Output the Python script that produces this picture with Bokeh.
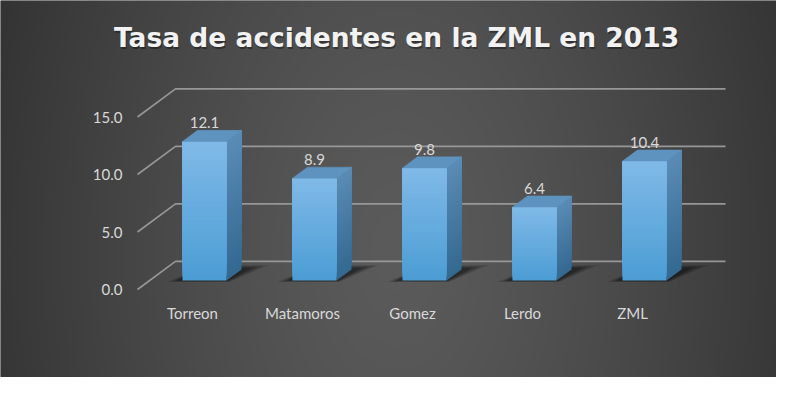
import numpy as np
from bokeh.plotting import figure
from bokeh.models import Range1d
from bokeh.embed import file_html
from bokeh.resources import INLINE
from bokeh.core.properties import value

# ---------------- data ----------------
title_text = "Tasa de accidentes en la ZML en 2013"
categories = ["Torreon", "Matamoros", "Gomez", "Lerdo", "ZML"]
rates = [12.1, 8.9, 9.8, 6.4, 10.4]
rate_labels = ["12.1", "8.9", "9.8", "6.4", "10.4"]
y_ticks = [0, 5, 10, 15]
y_tick_labels = ["0.0", "5.0", "10.0", "15.0"]

# ---------------- geometry (style) ----------------
W, H = 776, 377
PX, PY = 110.0, 11.5          # pixels per category unit / per value unit
SLOPE = 0.74                   # oblique depth slope
X0_PIX, Y0_PIX = 192.0, 289.0  # where category 0 / value 0 sit (pixels from left / top)
x_lo, x_hi = -X0_PIX / PX, (W - X0_PIX) / PX
y_hi, y_lo = Y0_PIX / PY, -(H - Y0_PIX) / PY

HW = 0.2          # half bar width (category units)
T0, T1 = 12, 27   # bar front / back depth (px)
TW = 38           # back wall depth (px)


def sh(x, y, t):
    return x + t / PX, y + SLOPE * t / PY


p = figure(width=W, height=H, x_range=Range1d(x_lo, x_hi), y_range=Range1d(y_lo, y_hi),
           x_axis_type=None, y_axis_type=None, toolbar_location=None,
           output_backend="svg", min_border=0, outline_line_color=None, title=None)
p.background_fill_color = "#444444"
p.border_fill_color = "#444444"

# ---------------- background radial gradient ----------------
jj, ii = np.mgrid[0:H, 0:W]
refx = ii.astype(float)
refy = (H - 1 - jj).astype(float)   # row 0 = bottom
dx = (refx - 396.0) / 430.0
dy = (refy - 250.0) / 700.0
r = np.sqrt(dx ** 2 + dy ** 2)
g = np.clip(91 - 40 * np.power(r, 1.3), 40, 95).astype(np.uint32)
img = (255 << 24) | (g << 16) | (g << 8) | g
p.image_rgba(image=[img.astype(np.uint32)], x=x_lo, y=y_lo, dw=x_hi - x_lo, dh=y_hi - y_lo)

# ---------------- walls / gridlines ----------------
gx, gy = [], []
for v in y_ticks:
    a = sh(-0.5, v, 0)
    b = sh(-0.5, v, TW)
    c = sh(len(categories) - 0.5, v, TW)
    gx.append([a[0], b[0], c[0]])
    gy.append([a[1], b[1], c[1]])
p.multi_line(xs=gx, ys=gy, line_color="#979797", line_width=1.6)

# ---------------- shadows ----------------
for k in range(len(categories)):
    for s, alpha in [(1.0, 0.10), (0.8, 0.14), (0.6, 0.18), (0.4, 0.22)]:
        grow = s * 0.14
        pts = [sh(k - HW - grow * 0.9, 0, T0 - 3 * s + 1),
               sh(k + HW + grow * 0.3, 0, T0 - 3 * s + 1),
               sh(k + HW + grow * 1.4, 0, T1 + 6 * s),
               sh(k - HW + grow * 0.2, 0, T1 + 6 * s)]
        p.patch([q[0] for q in pts], [q[1] for q in pts], fill_color="black",
                fill_alpha=alpha, line_color=None)


# ---------------- bars ----------------
def mix(c1, c2, f):
    a = np.array([int(c1[i:i + 2], 16) for i in (1, 3, 5)], float)
    b = np.array([int(c2[i:i + 2], 16) for i in (1, 3, 5)], float)
    c = a + (b - a) * f
    return "#%02x%02x%02x" % tuple(int(round(x)) for x in c)


N = 30
fl, fr, fb, ft, fc = [], [], [], [], []
sxs, sys, scs = [], [], []
for n in range(N):
    f0 = n / N
    for k, v in enumerate(rates):
        xa, ya = sh(k - HW, v * f0, T0)
        xb, yb = sh(k + HW, v, T0)
        fl.append(xa); fr.append(xb); fb.append(ya); ft.append(yb)
        fc.append(mix("#4b9dd4", "#80b9e8", f0 + 0.5 / N))
        p1 = sh(k + HW, v * f0, T0)
        p2 = sh(k + HW, v, T0)
        p3 = sh(k + HW, v, T1)
        p4 = sh(k + HW, v * f0, T1)
        sxs.append([p1[0], p2[0], p3[0], p4[0]])
        sys.append([p1[1], p2[1], p3[1], p4[1]])
        scs.append(mix("#336890", "#5a8cb6", f0 + 0.5 / N))
p.patches(xs=sxs, ys=sys, fill_color=scs, line_color=None)
p.quad(left=fl, right=fr, bottom=fb, top=ft, fill_color=fc, line_color=None)

txs, tys = [], []
for k, v in enumerate(rates):
    pts = [sh(k - HW, v, T0), sh(k + HW, v, T0), sh(k + HW, v, T1), sh(k - HW, v, T1)]
    txs.append([q[0] for q in pts])
    tys.append([q[1] for q in pts])
p.patches(xs=txs, ys=tys, fill_color="#5f93bf", line_color="#5f93bf", line_width=0.5)

# ---------------- data labels ----------------
lx = [sh(k, v, T0)[0] for k, v in enumerate(rates)]
ly = [sh(k, v, T1)[1] for k, v in enumerate(rates)]
p.text(x=lx, y=ly, text=rate_labels, text_align="center", text_baseline="bottom",
       y_offset=-2, text_font=value("Lato"), text_font_size="15px", text_color="#d9d9d9")

# ---------------- axis labels ----------------
p.text(x=[-0.5 - 15 / PX] * len(y_ticks), y=y_ticks, text=y_tick_labels, text_align="right",
       text_baseline="middle", text_font=value("Lato"), text_font_size="15px",
       text_color="#d9d9d9")
p.text(x=list(range(len(categories))), y=[-23.0 / PY] * len(categories), text=categories,
       text_align="center", text_baseline="middle", text_font=value("Lato"),
       text_font_size="15px", text_color="#d9d9d9")

# ---------------- title ----------------
tx = (396.0 - 192.0) / PX
ty = (289.0 - 37.0) / PY
p.text(x=[tx], y=[ty], text=[title_text], text_align="center", text_baseline="alphabetic",
       x_offset=1, y_offset=2, text_font=value("DejaVu Sans"), text_font_style="bold",
       text_font_size="26.5px", text_color="black", text_alpha=0.35)
p.text(x=[tx], y=[ty], text=[title_text], text_align="center", text_baseline="alphabetic",
       text_font=value("DejaVu Sans"), text_font_style="bold", text_font_size="26.5px",
       text_color="#f2f2f2")

open("out.html", "w").write(file_html(p, INLINE))
